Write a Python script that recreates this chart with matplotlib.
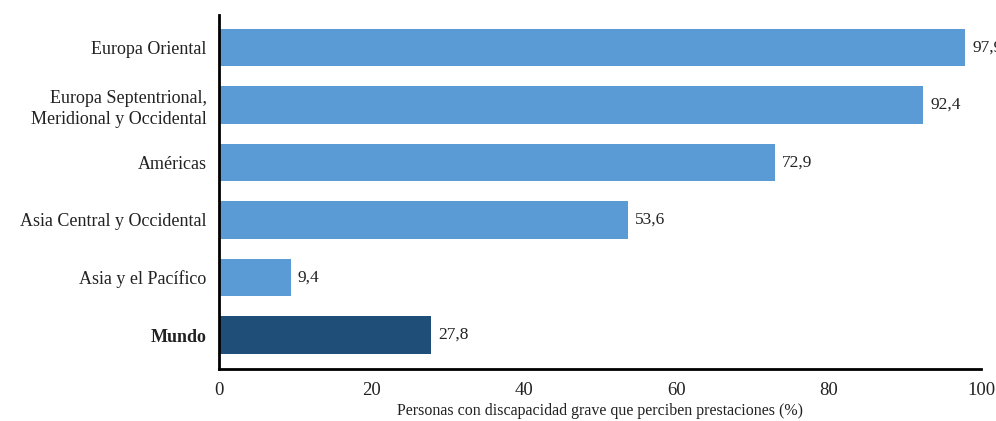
import matplotlib
matplotlib.use('Agg')
import matplotlib.pyplot as plt

regiones = ['Mundo', 'Asia y el Pacífico', 'Asia Central y Occidental', 'Américas',
            'Europa Septentrional,\nMeridional y Occidental', 'Europa Oriental']
valores = [27.8, 9.4, 53.6, 72.9, 92.4, 97.9]
etiquetas = ['27,8', '9,4', '53,6', '72,9', '92,4', '97,9']
colores = ['#1f4e79', '#5b9bd5', '#5b9bd5', '#5b9bd5', '#5b9bd5', '#5b9bd5']

plt.rcParams['font.family'] = ['Liberation Serif', 'DejaVu Serif']
texto = '#222222'

fig = plt.figure(figsize=(9.96, 4.21), dpi=100)
ax = fig.add_axes([0.22, 0.1235, 0.765, 0.8405])

y = list(range(len(regiones)))
ax.barh(y, valores, height=0.65, color=colores)
for yi, v, lab in zip(y, valores, etiquetas):
    ax.annotate(lab, (v, yi), xytext=(5, 0), textcoords='offset points',
                va='center', ha='left', fontsize=12.5, color=texto, annotation_clip=False)

ax.set_xlim(0, 100)
ax.set_ylim(-0.59, 5.56)
ax.set_yticks(y)
ax.set_yticklabels(regiones, fontsize=13, color=texto)
ax.get_yticklabels()[0].set_fontweight('bold')
ax.set_xticks([0, 20, 40, 60, 80, 100])
ax.tick_params(axis='x', labelsize=13.5, colors=texto, length=0, pad=9)
ax.tick_params(axis='y', length=0, pad=9)
for lab in ax.get_yticklabels():
    lab.set_multialignment('right')
    lab.set_linespacing(1.3)

ax.spines['top'].set_visible(False)
ax.spines['right'].set_visible(False)
ax.spines['left'].set_linewidth(2)
ax.spines['bottom'].set_linewidth(2)
ax.set_xlabel('Personas con discapacidad grave que perciben prestaciones (%)',
              fontsize=11.5, color=texto, labelpad=3)

fig.savefig('out.png', dpi=100)
